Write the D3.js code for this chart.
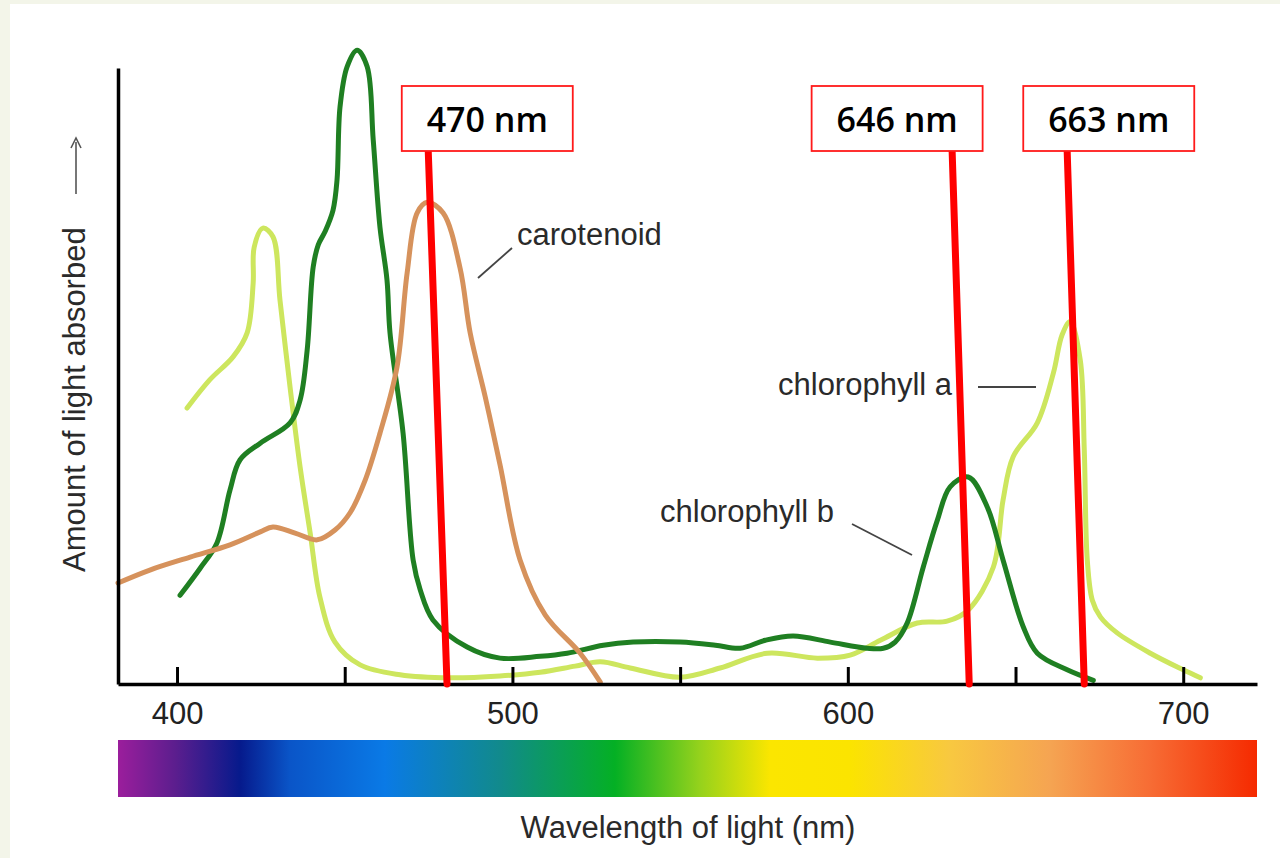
<!DOCTYPE html>
<html>
<head>
<meta charset="utf-8">
<script src="https://cdn.jsdelivr.net/npm/d3@7"></script>
<style>
  body { margin: 0; background: #f3f5e9; }
  svg { display: block; }
</style>
</head>
<body>
<div id="chart"></div>
<script>
// wavelength (nm) and relative absorbance
var chlANm  = [403.0, 409.8, 416.7, 420.9, 422.7, 423.0, 425.6, 428.6, 430.7, 433.7, 436.7, 439.7, 442.6, 447.1, 454.6, 466.5, 481.4, 496.3, 508.3, 518.7, 526.2, 535.1, 550.0, 561.9, 576.0, 590.9, 600.7, 609.7, 620.7, 629.6, 635.9, 643.4, 646.3, 649.3, 656.5, 661.3, 663.9, 666.3, 669.3, 670.5, 671.4, 672.9, 675.3, 680.3, 690.2, 700.0, 705.1];
var chlAVal = [44.8, 49.4, 53.1, 57.0, 65.1, 70.9, 74.0, 72.6, 62.3, 48.2, 35.2, 24.5, 14.1, 6.8, 3.1, 1.5, 1.0, 1.3, 1.9, 2.9, 3.6, 2.6, 1.1, 2.6, 5.0, 4.2, 4.7, 7.1, 9.9, 10.2, 12.0, 19.0, 29.9, 36.9, 42.4, 50.5, 56.7, 58.8, 52.6, 38.0, 20.1, 13.6, 10.9, 8.3, 5.0, 2.3, 1.0];

var chlBNm  = [400.9, 406.9, 411.9, 415.8, 418.8, 424.8, 433.7, 436.7, 438.8, 440.6, 442.1, 444.1, 446.5, 447.7, 448.6, 450.7, 453.7, 456.7, 458.5, 460.5, 462.6, 463.5, 467.4, 470.4, 472.5, 476.3, 486.5, 496.3, 508.3, 516.3, 527.1, 536.0, 550.0, 560.5, 567.9, 575.4, 583.7, 594.8, 605.8, 610.6, 614.1, 617.7, 622.5, 626.7, 630.5, 635.9, 641.6, 646.3, 652.3, 656.5, 665.4, 673.2];
var chlBVal = [14.4, 18.8, 22.9, 31.5, 36.4, 39.1, 42.4, 46.1, 54.2, 67.7, 71.3, 73.4, 76.9, 81.8, 93.7, 100.2, 102.9, 100.2, 88.3, 74.2, 65.6, 57.0, 40.7, 20.1, 15.3, 10.4, 6.0, 4.2, 4.5, 5.0, 6.3, 6.8, 6.8, 6.3, 5.8, 7.1, 7.8, 6.8, 5.8, 5.8, 6.8, 9.9, 19.0, 26.6, 32.0, 33.6, 28.7, 20.1, 9.3, 5.0, 2.3, 0.6];

var carNm  = [382.4, 391.9, 403.9, 415.8, 424.8, 428.6, 435.2, 441.8, 447.1, 451.6, 456.1, 460.5, 465.6, 468.6, 471.6, 474.6, 479.3, 484.4, 487.4, 491.9, 496.3, 502.3, 509.8, 520.2, 526.2];
var carVal = [16.4, 18.5, 20.6, 22.6, 24.7, 25.5, 24.5, 23.4, 25.0, 27.8, 33.1, 40.7, 51.5, 66.7, 76.5, 78.2, 76.5, 67.5, 57.0, 46.6, 35.6, 20.1, 11.2, 5.0, 0.3];

var tickValues = [400, 450, 500, 550, 600, 650, 700];
var tickLabels = ["400", "", "500", "", "600", "", "700"];

var spectrumNm     = [382.4, 399.4, 418.8, 433.7, 462.0, 496.3, 530.6, 556.0, 576.9, 600.7, 630.5, 660.4, 690.2, 722.0];
var spectrumColors = ["#9b1e9c", "#5c1e8e", "#061a8c", "#0a55c8", "#0a7ae6", "#118a8c", "#04b024", "#96d21c", "#fbe600", "#fbe400", "#f8c840", "#f5a452", "#f76c34", "#f52a00"];

var markerLabels   = ["470 nm", "646 nm", "663 nm"];
var markerTopNm    = [474.9, 631.1, 665.4];
var markerBottomNm = [480.5, 636.2, 670.5];
var markerBoxNm    = [492.5, 614.7, 677.8];

var W = 1280, H = 858;
var svg = d3.select("#chart").append("svg")
  .attr("width", W)
  .attr("height", H);

// slide background
svg.append("rect").attr("x", 10).attr("y", 4).attr("width", W - 10).attr("height", H - 4).attr("fill", "#fff");

var x = d3.scaleLinear().domain([382.4, 722]).range([118, 1257]);
var y = d3.scaleLinear().domain([0, 100]).range([684, 68]);

var line = d3.line()
  .x(function(d) { return x(d[0]); })
  .y(function(d) { return y(d[1]); })
  .curve(d3.curveCatmullRom.alpha(0.5));

function pairs(a, b) { return a.map(function(v, i) { return [v, b[i]]; }); }

//CURVES
var series = [
  {pts: pairs(chlANm, chlAVal), color: "#cde65e"},
  {pts: pairs(chlBNm, chlBVal), color: "#1f7f22"},
  {pts: pairs(carNm, carVal), color: "#d6925c"}
];
svg.selectAll("path.curve").data(series).enter().append("path")
  .attr("class", "curve")
  .attr("d", function(d) { return line(d.pts); })
  .attr("fill", "none")
  .attr("stroke", function(d) { return d.color; })
  .attr("stroke-width", 5)
  .attr("stroke-linecap", "round")
  .attr("stroke-linejoin", "round");

//AXES
var xAxis = d3.axisBottom(x)
  .tickValues(tickValues)
  .tickSizeInner(-17)
  .tickSizeOuter(0)
  .tickPadding(18)
  .tickFormat(function(d, i) { return tickLabels[i]; });

var gx = svg.append("g")
  .attr("transform", "translate(0," + y(0) + ")")
  .call(xAxis);
gx.select(".domain").attr("stroke", "#000").attr("stroke-width", 3.5);
gx.selectAll(".tick line").attr("stroke", "#000").attr("stroke-width", 3);
gx.selectAll(".tick text")
  .attr("fill", "#222")
  .style("font-family", "'Liberation Sans', Arial, sans-serif")
  .style("font-size", "31px");

var yAxis = d3.axisLeft(y).tickValues([]).tickSizeOuter(0);
var gy = svg.append("g")
  .attr("transform", "translate(118,0)")
  .call(yAxis);
gy.select(".domain").attr("stroke", "#000").attr("stroke-width", 3.5);

//AXIS TITLES
var labelFont = "'Liberation Sans', Arial, sans-serif";
svg.append("text")
  .attr("transform", "translate(85,572) rotate(-90)")
  .attr("fill", "#2a2a2a")
  .style("font-family", labelFont)
  .style("font-size", "31px")
  .text("Amount of light absorbed");

svg.append("line")
  .attr("x1", 76).attr("x2", 76).attr("y1", 194).attr("y2", 142)
  .attr("stroke", "#555").attr("stroke-width", 1.6);
svg.append("path")
  .attr("d", "M71,148 L76,138 L81,148")
  .attr("fill", "none").attr("stroke", "#555").attr("stroke-width", 1.6);

svg.append("text")
  .attr("x", 688).attr("y", 838)
  .attr("text-anchor", "middle")
  .attr("fill", "#2a2a2a")
  .style("font-family", labelFont)
  .style("font-size", "31px")
  .text("Wavelength of light (nm)");

//SPECTRUM BAR
var grad = svg.append("defs").append("linearGradient")
  .attr("id", "spectrum")
  .attr("x1", "0%").attr("x2", "100%").attr("y1", "0%").attr("y2", "0%");
grad.selectAll("stop").data(spectrumNm).enter().append("stop")
  .attr("offset", function(d) { return ((x(d) - x(382.4)) / (x(722) - x(382.4)) * 100) + "%"; })
  .attr("stop-color", function(d, i) { return spectrumColors[i]; });

svg.append("rect")
  .attr("x", x(382.4)).attr("y", 740)
  .attr("width", x(722) - x(382.4)).attr("height", 57)
  .attr("fill", "url(#spectrum)");

//CURVE NAMES
var notes = [
  {text: "carotenoid", x: 517, y: 245, l: [478, 278, 512, 248]},
  {text: "chlorophyll a", x: 778, y: 395, l: [978, 387, 1036, 387]},
  {text: "chlorophyll b", x: 660, y: 522, l: [852, 524, 912, 555]}
];
svg.selectAll("text.note").data(notes).enter().append("text")
  .attr("class", "note")
  .attr("x", function(d) { return d.x; })
  .attr("y", function(d) { return d.y; })
  .attr("fill", "#2a2a2a")
  .style("font-family", labelFont)
  .style("font-size", "31px")
  .text(function(d) { return d.text; });
svg.selectAll("line.note").data(notes).enter().append("line")
  .attr("class", "note")
  .attr("x1", function(d) { return d.l[0]; })
  .attr("y1", function(d) { return d.l[1]; })
  .attr("x2", function(d) { return d.l[2]; })
  .attr("y2", function(d) { return d.l[3]; })
  .attr("stroke", "#444").attr("stroke-width", 1.8);

//RED MARKERS
var boxW = 171, boxH = 65, boxTop = 86;
svg.selectAll("line.marker").data(markerLabels).enter().append("line")
  .attr("class", "marker")
  .attr("x1", function(d, i) { return x(markerTopNm[i]); })
  .attr("y1", boxTop + boxH)
  .attr("x2", function(d, i) { return x(markerBottomNm[i]); })
  .attr("y2", y(0))
  .attr("stroke", "#ff0000")
  .attr("stroke-width", 7)
  .attr("stroke-linecap", "round");

var boxes = svg.selectAll("g.marker").data(markerLabels).enter().append("g")
  .attr("class", "marker")
  .attr("transform", function(d, i) { return "translate(" + x(markerBoxNm[i]) + "," + boxTop + ")"; });
boxes.append("rect")
  .attr("x", -boxW / 2).attr("y", 0)
  .attr("width", boxW).attr("height", boxH)
  .attr("fill", "#fff")
  .attr("stroke", "#ff1a1a").attr("stroke-width", 1.8);
boxes.append("text")
  .attr("x", 0).attr("y", 46)
  .attr("text-anchor", "middle")
  .attr("fill", "#000")
  .style("font-family", "'Open Sans', 'Noto Sans', sans-serif")
  .style("font-weight", "600")
  .style("font-size", "34px")
  .text(function(d) { return d; });
</script>
</body>
</html>
